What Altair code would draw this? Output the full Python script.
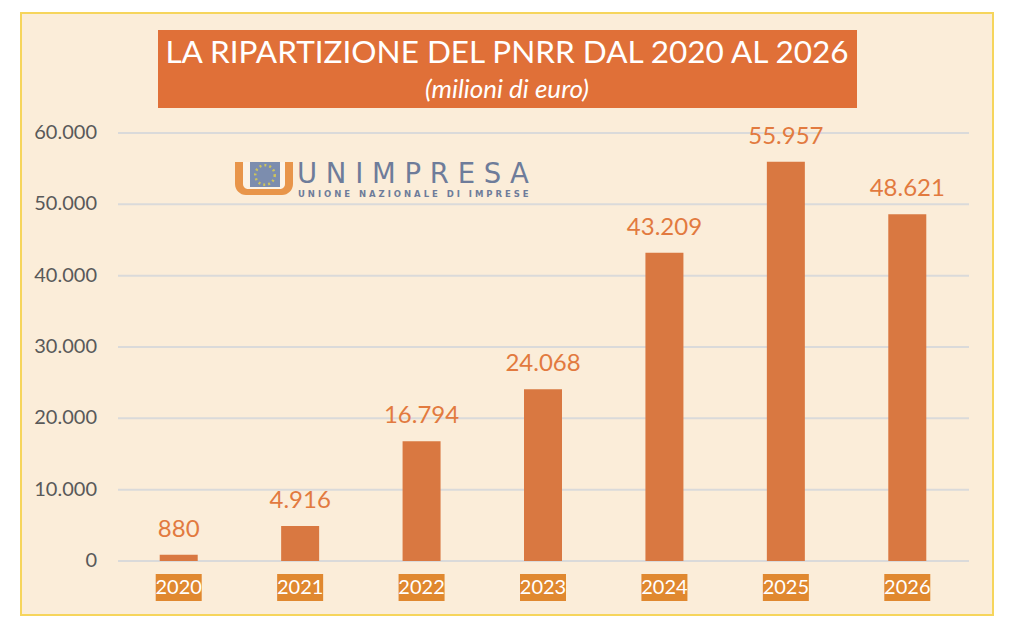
import altair as alt
import pandas as pd

# ---- data ----
years = ["2020", "2021", "2022", "2023", "2024", "2025", "2026"]
values = [880, 4916, 16794, 24068, 43209, 55957, 48621]
value_labels = ["880", "4.916", "16.794", "24.068", "43.209", "55.957", "48.621"]
tick_values = [0, 10000, 20000, 30000, 40000, 50000, 60000]
tick_labels = ["0", "10.000", "20.000", "30.000", "40.000", "50.000", "60.000"]

title_text = "LA RIPARTIZIONE DEL PNRR DAL 2020 AL 2026"
subtitle_text = "(milioni di euro)"
logo_text = "U N I M P R E S A"
logo_words = ["UNIONE", "NAZIONALE", "DI", "IMPRESE"]
logo_sub = "\u00a0\u00a0 ".join(" ".join(w) for w in logo_words)

df = pd.DataFrame({"year": years, "value": values, "label": value_labels})
ticks = pd.DataFrame({"v": tick_values, "t": tick_labels})
one = alt.Data(values=[{}])

FONT = "Lato"
BAR = "#D97841"
LABEL = "#E27A3F"
TITLE_BOX = "#E07038"
XBOX = "#E0882F"
CREAM = "#FBEDD9"

xs = alt.Scale(domain=years, range=[97, 947], paddingInner=0, paddingOuter=0)
ys = alt.Scale(domain=[0, 60000], range=[548, 120], nice=False, zero=True)

grid = alt.Chart(ticks).mark_rule(color="#DADADA", strokeWidth=2).encode(
    y=alt.Y("v:Q", scale=ys, axis=None),
    x=alt.value(97), x2=alt.value(948),
)
ylab = alt.Chart(ticks).mark_text(align="right", baseline="middle", font=FONT,
                                  fontSize=20, color="#595959").encode(
    y=alt.Y("v:Q", scale=ys, axis=None), x=alt.value(76), text="t:N",
)
bars = alt.Chart(df).mark_bar(size=38, color=BAR).encode(
    x=alt.X("year:N", scale=xs, axis=None, sort=years),
    y=alt.Y("value:Q", scale=ys, axis=None),
)
vlab = alt.Chart(df).mark_text(baseline="alphabetic", dy=-18, font=FONT,
                               fontSize=24, color=LABEL).encode(
    x=alt.X("year:N", scale=xs, axis=None, sort=years),
    y=alt.Y("value:Q", scale=ys, axis=None),
    text="label:N",
)
xbox = alt.Chart(df).mark_bar(size=46, color=XBOX).encode(
    x=alt.X("year:N", scale=xs, axis=None, sort=years),
    y=alt.value(561), y2=alt.value(588),
)
xlab = alt.Chart(df).mark_text(baseline="middle", font=FONT, fontSize=20,
                               color="white").encode(
    x=alt.X("year:N", scale=xs, axis=None, sort=years),
    y=alt.value(575), text="year:N",
)

# title box
tbox = alt.Chart(one).mark_rect(color=TITLE_BOX).encode(
    x=alt.value(137), x2=alt.value(836), y=alt.value(17), y2=alt.value(95))
ttl = alt.Chart(one).mark_text(font=FONT, fontSize=31.5,
                               color="white", baseline="alphabetic").encode(
    x=alt.value(486), y=alt.value(50), text=alt.value(title_text))
sttl = alt.Chart(one).mark_text(font=FONT, fontSize=26, fontStyle="italic",
                                color="white",
                                baseline="alphabetic").encode(
    x=alt.value(486), y=alt.value(85), text=alt.value(subtitle_text))

# logo
lo = alt.Chart(one).mark_rect(color="#E8954A", cornerRadiusBottomLeft=11,
                              cornerRadiusBottomRight=11).encode(
    x=alt.value(214), x2=alt.value(272), y=alt.value(149), y2=alt.value(182))
lc = alt.Chart(one).mark_rect(color="#FCF3E6", cornerRadiusBottomLeft=5,
                              cornerRadiusBottomRight=5).encode(
    x=alt.value(222), x2=alt.value(264), y=alt.value(149), y2=alt.value(176))
lb = alt.Chart(one).mark_rect(color="#7C8DAE").encode(
    x=alt.value(229), x2=alt.value(259), y=alt.value(149), y2=alt.value(174))
ring = alt.Chart(one).mark_point(shape="circle", filled=False, size=380,
                                 stroke="#F2DC3A", strokeWidth=2.5,
                                 strokeDash=[2, 3]).encode(
    x=alt.value(244), y=alt.value(162))
lt = alt.Chart(one).mark_text(font="DejaVu Sans", fontSize=27.5, color="#6E7C9A",
                              align="left", baseline="alphabetic").encode(
    x=alt.value(276), y=alt.value(170), text=alt.value(logo_text))
ls = alt.Chart(one).mark_text(font="DejaVu Sans", fontSize=8.5, fontWeight="bold",
                              color="#6E7C9A", align="left",
                              baseline="alphabetic").encode(
    x=alt.value(277), y=alt.value(184), text=alt.value(logo_sub))

chart = alt.layer(grid, ylab, bars, vlab, xbox, xlab, tbox, ttl, sttl,
                  lo, lc, lb, ring, lt, ls).properties(
    width=972, height=602,
    autosize=alt.AutoSizeParams(type="none"),
    padding={"left": 13, "top": 5, "right": 10, "bottom": 10},
    background="white",
).configure_view(fill=CREAM, stroke="#F6D55C", strokeWidth=2)

chart.save("out.html", embed_options={"renderer": "svg", "actions": False})
